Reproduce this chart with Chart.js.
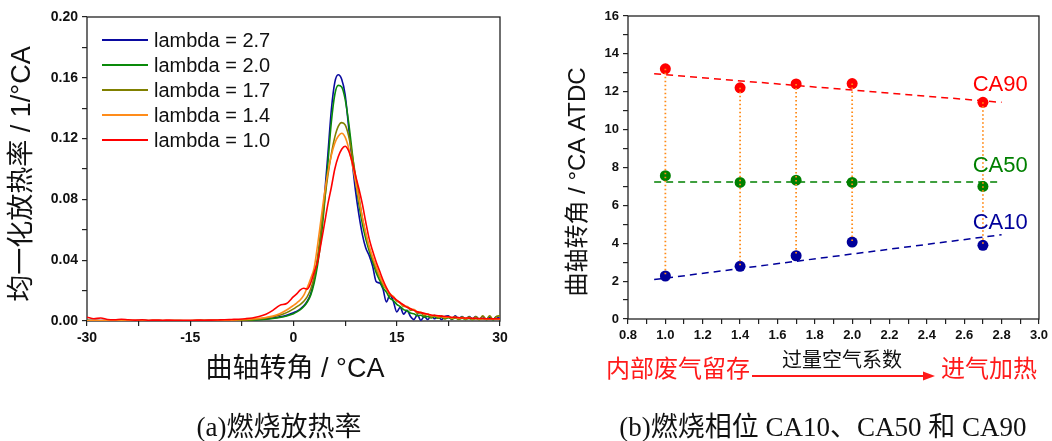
<!DOCTYPE html>
<html>
<head>
<meta charset="utf-8">
<script src="https://cdn.jsdelivr.net/npm/chart.js@4.4.1/dist/chart.umd.min.js"></script>
<style>
  body { margin: 0; background: #fff; }
  #wrap { position: relative; width: 1052px; height: 441px; overflow: hidden; }
  canvas { position: absolute; top: 0; }
  #hrr { left: 0; }
  #phase { left: 526px; }
  .cap { position: absolute; top: 412px; line-height: 30px; font-size: 27px;
         font-family: "Liberation Serif", "Noto Sans CJK SC", serif; color: #111;
         white-space: nowrap; transform: translateX(-50%); }
</style>
</head>
<body>
<div id="wrap">
  <canvas id="hrr" width="526" height="441"></canvas>
  <canvas id="phase" width="526" height="441"></canvas>
  <div class="cap" style="left:279px">(a)燃烧放热率</div>
  <div class="cap" style="left:823px">(b)燃烧相位 CA10、CA50 和 CA90</div>
</div>
<script>
// 曲轴转角 (°CA)
const angle = [
  -30, -29, -28, -27, -26, -25, -24, -23, -22, -21, -20, -19, -18, -17, -16, -15, -14, -13, -12, -11,
  -10, -9, -8, -7, -6, -5, -4, -3, -2, -1,
  0, 0.5, 1, 1.5, 2, 2.5, 3, 3.5, 4, 4.5, 5, 5.5, 6, 6.5, 7, 7.5, 8, 8.5, 9, 9.5,
  10, 10.5, 11, 11.5, 12, 12.5, 13, 13.5, 14, 14.5, 15, 15.5, 16, 16.5, 17, 17.5, 18, 18.5, 19, 19.5,
  20, 20.5, 21, 21.5, 22, 22.5, 23, 23.5, 24, 24.5, 25, 25.5, 26, 26.5, 27, 27.5, 28, 28.5, 29, 29.5, 30
];

// 均一化放热率 (1/°CA)
const hrr27 = [
  0.0004, 0.0003, 0.0003, 0.0002, 0.0003, 0.0003, 0.0002, 0.0002, 0.0003, 0.0002, 0.0002, 0.0002, 0.0002, 0.0002, 0.0002, 0.0002, 0.0002, 0.0003, 0.0003, 0.0003,
  0.0003, 0.0004, 0.0004, 0.0005, 0.0007, 0.001, 0.0014, 0.002, 0.0027, 0.0037,
  0.0055, 0.0065, 0.008, 0.010, 0.013, 0.018, 0.027, 0.040, 0.058, 0.082, 0.110, 0.139, 0.157, 0.162, 0.159, 0.149, 0.128, 0.106, 0.086, 0.070,
  0.057, 0.048, 0.043, 0.036, 0.026, 0.025, 0.021, 0.0125, 0.017, 0.013, 0.006, 0.009, 0.0045, 0.007, 0.003, 0.001, 0.004, 0.0005, 0.003, 0.001,
  0.0035, 0.0015, 0.003, 0.001, 0.003, 0.0035, 0.001, 0.0035, 0.0015, 0.003, 0.001, 0.003, 0.0015, 0.003, 0.001, 0.003, 0.001, 0.0025, 0.001, 0.003, 0.001
];
const hrr20 = [
  0.0003, 0.0002, 0.0002, 0.0002, 0.0002, 0.0002, 0.0002, 0.0002, 0.0002, 0.0002, 0.0002, 0.0002, 0.0002, 0.0002, 0.0002, 0.0002, 0.0002, 0.0002, 0.0002, 0.0002,
  0.0002, 0.0003, 0.0003, 0.0004, 0.0006, 0.0008, 0.0011, 0.0016, 0.0023, 0.0033,
  0.0048, 0.006, 0.0075, 0.0095, 0.0125, 0.017, 0.025, 0.037, 0.054, 0.077, 0.104, 0.131, 0.149, 0.155, 0.154, 0.146, 0.131, 0.112, 0.093, 0.077,
  0.064, 0.054, 0.046, 0.039, 0.032, 0.027, 0.022, 0.019, 0.015, 0.0135, 0.011, 0.0095, 0.0075, 0.0068, 0.0052, 0.0048, 0.0035, 0.0038, 0.0025, 0.003,
  0.002, 0.0028, 0.0018, 0.0025, 0.0015, 0.0022, 0.0013, 0.002, 0.0012, 0.0018, 0.0012, 0.0017, 0.001, 0.0016, 0.001, 0.0015, 0.001, 0.0014, 0.0009, 0.0013, 0.001
];
const hrr17 = [
  0.0003, 0.0003, 0.0002, 0.0003, 0.0003, 0.0002, 0.0003, 0.0002, 0.0003, 0.0002, 0.0003, 0.0002, 0.0002, 0.0003, 0.0002, 0.0002, 0.0003, 0.0003, 0.0003, 0.0003,
  0.0004, 0.0004, 0.0005, 0.0007, 0.0009, 0.0013, 0.002, 0.0028, 0.0038, 0.0055,
  0.008, 0.0095, 0.011, 0.013, 0.016, 0.021, 0.029, 0.042, 0.060, 0.079, 0.096, 0.110, 0.121, 0.128, 0.1305, 0.129, 0.122, 0.110, 0.096, 0.082,
  0.068, 0.057, 0.048, 0.041, 0.034, 0.029, 0.024, 0.021, 0.017, 0.016, 0.013, 0.012, 0.0095, 0.0095, 0.007, 0.0075, 0.005, 0.0055, 0.0035, 0.0045,
  0.0025, 0.0038, 0.002, 0.0035, 0.0015, 0.003, 0.0015, 0.003, 0.001, 0.0028, 0.001, 0.0028, 0.001, 0.003, 0.0008, 0.0035, 0.001, 0.0035, 0.001, 0.003, 0.0035
];
const hrr14 = [
  0.0003, 0.0003, 0.0003, 0.0002, 0.0003, 0.0003, 0.0003, 0.0003, 0.0002, 0.0003, 0.0003, 0.0003, 0.0003, 0.0003, 0.0003, 0.0003, 0.0004, 0.0004, 0.0004, 0.0005,
  0.0005, 0.0006, 0.0008, 0.001, 0.0013, 0.0017, 0.0023, 0.0032, 0.0048, 0.0072,
  0.0103, 0.012, 0.014, 0.017, 0.022, 0.028, 0.035, 0.050, 0.067, 0.084, 0.098, 0.109, 0.117, 0.1215, 0.1235, 0.121, 0.114, 0.104, 0.092, 0.080,
  0.068, 0.058, 0.049, 0.042, 0.036, 0.030, 0.025, 0.021, 0.018, 0.016, 0.0135, 0.012, 0.010, 0.0095, 0.008, 0.0075, 0.006, 0.0058, 0.0045, 0.0045,
  0.0035, 0.0035, 0.003, 0.0028, 0.0025, 0.0025, 0.002, 0.0022, 0.0018, 0.002, 0.0016, 0.0018, 0.0015, 0.0016, 0.0013, 0.0015, 0.0012, 0.0014, 0.0012, 0.0013, 0.0012
];
const hrr10 = [
  0.0025, 0.0015, 0.002, 0.001, 0.0008, 0.0012, 0.0008, 0.0006, 0.0008, 0.0005, 0.0006, 0.0005, 0.0006, 0.0005, 0.0004, 0.0005, 0.0006, 0.0005, 0.0006, 0.0007,
  0.0008, 0.001, 0.0012, 0.0015, 0.002, 0.003, 0.0045, 0.007, 0.0103, 0.0115,
  0.016, 0.018, 0.0205, 0.0215, 0.021, 0.025, 0.032, 0.039, 0.051, 0.064, 0.077, 0.088, 0.100, 0.108, 0.113, 0.115, 0.112, 0.105, 0.096, 0.087,
  0.077, 0.065, 0.054, 0.046, 0.039, 0.033, 0.027, 0.022, 0.018, 0.0155, 0.0137, 0.012, 0.0105, 0.009, 0.008, 0.007, 0.006, 0.0055, 0.005, 0.0045,
  0.004, 0.0037, 0.0035, 0.0032, 0.003, 0.0028, 0.0025, 0.0024, 0.0022, 0.002, 0.002, 0.0019, 0.0018, 0.0017, 0.0016, 0.0016, 0.0015, 0.0015, 0.0014, 0.0015, 0.0015
];
const hrrLabels = ['lambda = 2.7', 'lambda = 2.0', 'lambda = 1.7', 'lambda = 1.4', 'lambda = 1.0'];
const hrrColors = ['#0a0aa0', '#0a8a0a', '#808000', '#ff8c1a', '#ff0000'];

// 燃烧相位 (°CA ATDC) vs 过量空气系数
const lambdaVals = [1.0, 1.4, 1.7, 2.0, 2.7];
const ca10 = [2.27, 2.78, 3.34, 4.06, 3.89];
const ca50 = [7.57, 7.21, 7.33, 7.21, 7.0];
const ca90 = [13.21, 12.21, 12.41, 12.43, 11.44];
// 趋势线端点
const fitX = [0.94, 2.80];
const ca10Fit = [2.08, 4.45];
const ca50Fit = [7.24, 7.24];
const ca90Fit = [12.95, 11.44];

const SANS = "'Liberation Sans', 'Noto Sans CJK SC', sans-serif";
const tickFont = (size) => ({ family: SANS, size: size, weight: 'bold' });

// 边框
const framePlugin = {
  id: 'frame',
  beforeDatasetsDraw(chart) {
    const { ctx, chartArea: a } = chart;
    ctx.save();
    ctx.strokeStyle = '#222';
    ctx.lineWidth = 1.3;
    ctx.strokeRect(a.left, a.top, a.right - a.left, a.bottom - a.top);
    ctx.restore();
  }
};

// 文字: 固定位置 或 数据坐标 (at)
function textPlugin(items, extra) {
  return {
    id: 'texts',
    afterDraw(chart) {
      const ctx = chart.ctx;
      for (const t of items) {
        let x = t.x, y = t.y;
        if (t.at) {
          x = chart.scales.x.getPixelForValue(t.at[0]);
          y = chart.scales.y.getPixelForValue(t.at[1]);
        }
        ctx.save();
        ctx.font = t.font;
        ctx.fillStyle = t.color || '#111';
        ctx.textAlign = t.align || 'center';
        ctx.textBaseline = 'middle';
        ctx.translate(x, y);
        if (t.rot) ctx.rotate(t.rot);
        ctx.fillText(t.text, 0, 0);
        ctx.restore();
      }
      if (extra) extra(chart.ctx);
    }
  };
}

// 图例 (图内左上)
const hrrLegend = {
  id: 'hrrLegend',
  afterDatasetsDraw(chart) {
    const { ctx, chartArea: a } = chart;
    chart.data.datasets.forEach((ds, i) => {
      const y = a.top + 23 + i * 25;
      ctx.save();
      ctx.strokeStyle = ds.borderColor;
      ctx.lineWidth = 2;
      ctx.beginPath();
      ctx.moveTo(a.left + 15, y);
      ctx.lineTo(a.left + 61, y);
      ctx.stroke();
      ctx.font = '20px ' + SANS;
      ctx.fillStyle = '#111';
      ctx.textBaseline = 'middle';
      ctx.fillText(ds.label, a.left + 67, y + 1);
      ctx.restore();
    });
  }
};

function axisOpts(min, max, step, labelFn, size, width) {
  return {
    type: 'linear', min: min, max: max,
    border: { display: false },
    grid: { drawOnChartArea: false, tickLength: 5, color: '#222', lineWidth: 1.2 },
    ticks: { stepSize: step, autoSkip: false, maxRotation: 0, padding: 4, color: '#111',
             font: tickFont(size), callback: labelFn },
    afterFit: width
  };
}

// (a) 放热率曲线
new Chart(document.getElementById('hrr'), {
  type: 'line',
  data: {
    datasets: [hrr27, hrr20, hrr17, hrr14, hrr10].map((s, i) => ({
      label: hrrLabels[i],
      data: angle.map((a, j) => ({ x: a, y: s[j] })),
      borderColor: hrrColors[i],
      borderWidth: 1.6,
      pointRadius: 0,
      fill: false,
      cubicInterpolationMode: 'monotone',
      order: 5 - i
    }))
  },
  options: {
    responsive: false,
    animation: false,
    layout: { padding: { top: 17, right: 26, left: 0, bottom: 0 } },
    plugins: { legend: { display: false }, tooltip: { enabled: false } },
    scales: {
      x: axisOpts(-30, 30, 7.5, (v) => (v % 15 === 0 ? String(v) : ''), 14,
                  (s) => { s.height = 120; }),
      y: axisOpts(0, 0.2, 0.02, (v) => (Math.round(v * 100) % 4 === 0 ? v.toFixed(2) : ''), 14,
                  (s) => { s.width = 87; })
    }
  },
  plugins: [framePlugin, hrrLegend, textPlugin([
    { text: '均一化放热率 / 1/°CA', x: 23, y: 174, rot: -Math.PI / 2, font: '27px ' + SANS },
    { text: '曲轴转角 / °CA', x: 295, y: 370, font: '27px ' + SANS }
  ])]
});

// (b) 燃烧相位
const connectors = [];
lambdaVals.forEach((l, i) => {
  connectors.push({ x: l, y: ca90[i] }, { x: l, y: ca10[i] }, { x: l, y: null });
});
const pts = (vals) => lambdaVals.map((l, i) => ({ x: l, y: vals[i] }));
const fit = (vals) => fitX.map((x, i) => ({ x: x, y: vals[i] }));
const phaseColors = { ca10: '#00009a', ca50: '#008000', ca90: '#ff0000' };

const pointSet = (label, vals, color) => ({
  label: label, data: pts(vals), showLine: false,
  pointRadius: 5.5, pointBackgroundColor: color, pointBorderWidth: 0, order: 1
});
const fitSet = (label, vals, color) => ({
  label: label, data: fit(vals), borderColor: color, borderWidth: 1.5,
  borderDash: [7, 5], pointRadius: 0, fill: false, order: 2
});

new Chart(document.getElementById('phase'), {
  type: 'line',
  data: {
    datasets: [
      { label: 'range', data: connectors, borderColor: '#ff8c1a', borderWidth: 1.8,
        borderDash: [1.5, 2.5], pointRadius: 0, spanGaps: false, order: 0 },
      pointSet('CA90', ca90, phaseColors.ca90),
      pointSet('CA50', ca50, phaseColors.ca50),
      pointSet('CA10', ca10, phaseColors.ca10),
      fitSet('CA90 fit', ca90Fit, phaseColors.ca90),
      fitSet('CA50 fit', ca50Fit, phaseColors.ca50),
      fitSet('CA10 fit', ca10Fit, phaseColors.ca10)
    ]
  },
  options: {
    responsive: false,
    animation: false,
    layout: { padding: { top: 16, right: 11, left: 0, bottom: 0 } },
    plugins: { legend: { display: false }, tooltip: { enabled: false } },
    scales: {
      x: axisOpts(0.8, 3.0, 0.1, (v) => (Math.round(v * 10) % 2 === 0 ? v.toFixed(1) : ''), 13,
                  (s) => { s.height = 122; }),
      y: axisOpts(0, 16, 1, (v) => (v % 2 === 0 ? String(v) : ''), 13,
                  (s) => { s.width = 102; })
    }
  },
  plugins: [framePlugin, textPlugin([
    { text: '曲轴转角 / °CA ATDC', x: 52, y: 182, rot: -Math.PI / 2, font: '24px ' + SANS },
    { text: '过量空气系数', x: 316, y: 361, font: '20px ' + SANS },
    { text: '内部废气留存', x: 152, y: 370, font: '24px ' + SANS, color: '#ff1a1a' },
    { text: '进气加热', x: 463, y: 370, font: '24px ' + SANS, color: '#ff1a1a' },
    { text: 'CA90', at: [2.94, 12.37], align: 'right', font: '22px ' + SANS, color: phaseColors.ca90 },
    { text: 'CA50', at: [2.94, 8.06], align: 'right', font: '22px ' + SANS, color: phaseColors.ca50 },
    { text: 'CA10', at: [2.94, 5.08], align: 'right', font: '22px ' + SANS, color: phaseColors.ca10 }
  ], (ctx) => {
    // 红色箭头
    ctx.save();
    ctx.strokeStyle = '#ff1a1a';
    ctx.fillStyle = '#ff1a1a';
    ctx.lineWidth = 2;
    ctx.beginPath();
    ctx.moveTo(226, 376);
    ctx.lineTo(400, 376);
    ctx.stroke();
    ctx.beginPath();
    ctx.moveTo(409, 376);
    ctx.lineTo(397, 371.5);
    ctx.lineTo(397, 380.5);
    ctx.closePath();
    ctx.fill();
    ctx.restore();
  })]
});
</script>
</body>
</html>
